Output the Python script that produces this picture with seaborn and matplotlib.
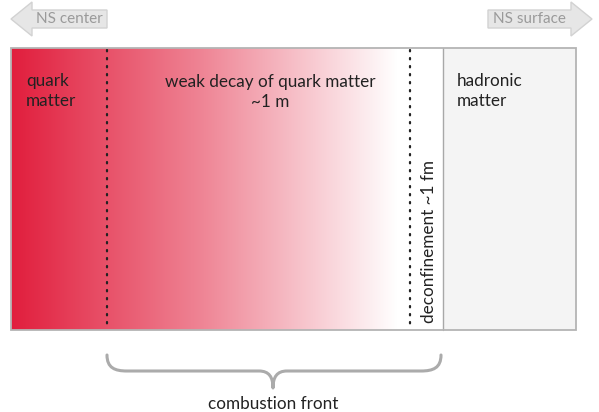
import numpy as np
import seaborn as sns
import matplotlib.pyplot as plt
from matplotlib.colors import LinearSegmentedColormap
from matplotlib.path import Path
from matplotlib.patches import PathPatch, Polygon, Rectangle

# ======================
# diagram layout (pixel units of a 599x412 canvas)
# ======================
box_left, box_right = 11, 576
box_top, box_bottom = 48, 330
grad_end = 398           # where the red fade reaches white
dotted_x = [107, 410]    # boundaries of the weak-decay zone / deconfinement
hadron_x = 443           # start of hadronic matter

region_labels = ["quark\nmatter", "weak decay of quark matter\n~1 m", "hadronic\nmatter"]
region_label_x = [26, 270, 457]
rot_label = "deconfinement ~1 fm"
arrow_labels = ["NS center", "NS surface"]
brace_label = "combustion front"

sns.set_theme(style="white")
plt.rcParams['font.family'] = ['Lato', 'DejaVu Sans']

fig = plt.figure(figsize=(5.99, 4.12), dpi=100)
ax = fig.add_axes([0, 0, 1, 1])
ax.set_xlim(0, 599)
ax.set_ylim(412, 0)
ax.axis('off')

# red -> white fade
cmap = LinearSegmentedColormap.from_list("fade", ["#E11E3D", "#EF8696", "#FFFFFF"])
grad = np.linspace(0, 1, 256).reshape(1, -1)
ax.imshow(grad, cmap=cmap, aspect='auto',
          extent=(box_left, grad_end, box_bottom, box_top), zorder=1)

# hadronic region
ax.add_patch(Rectangle((hadron_x, box_top), box_right - hadron_x, box_bottom - box_top,
                       facecolor="#F4F4F4", edgecolor="none", zorder=1))
ax.plot([hadron_x, hadron_x], [box_top, box_bottom], color="#A8A8A8", lw=1.0, zorder=3)

# outer frame
ax.add_patch(Rectangle((box_left, box_top), box_right - box_left, box_bottom - box_top,
                       facecolor="none", edgecolor="#B4B4B4", lw=1.3, zorder=4))

# dotted boundaries
for x in dotted_x:
    ax.plot([x, x], [box_top + 2, box_bottom - 2], color="#222222", lw=1.6,
            linestyle=(0, (0.6, 3.0)), dash_capstyle='round', zorder=3)

# region text
fs = 12.3
ax.text(region_label_x[0], 91, region_labels[0], fontsize=fs, color="#222222",
        ha='left', va='center', linespacing=1.25, zorder=5)
ax.text(region_label_x[1], 92, region_labels[1], fontsize=fs, color="#222222",
        ha='center', va='center', linespacing=1.25, zorder=5)
ax.text(region_label_x[2], 91, region_labels[2], fontsize=fs, color="#222222",
        ha='left', va='center', linespacing=1.25, zorder=5)
ax.text(429, 323, rot_label, fontsize=fs, color="#222222", rotation=90,
        ha='center', va='bottom', zorder=5)

# direction arrows
def block_arrow(x0, x1, tip_left, label):
    yc, hb, hh, head = 19, 9, 17, 21
    if tip_left:
        pts = [(x0, yc), (x0 + head, yc - hh), (x0 + head, yc - hb), (x1, yc - hb),
               (x1, yc + hb), (x0 + head, yc + hb), (x0 + head, yc + hh)]
        tx = (x0 + head + x1) / 2
    else:
        pts = [(x1, yc), (x1 - head, yc - hh), (x1 - head, yc - hb), (x0, yc - hb),
               (x0, yc + hb), (x1 - head, yc + hb), (x1 - head, yc + hh)]
        tx = (x0 + x1 - head) / 2
    ax.add_patch(Polygon(pts, closed=True, facecolor="#E6E6E6", edgecolor="#D2D2D2",
                         lw=1.0, zorder=2))
    ax.text(tx, yc, label, fontsize=11, color="#9A9A9A", ha='center', va='center', zorder=3)

block_arrow(11, 107, True, arrow_labels[0])
block_arrow(488, 592, False, arrow_labels[1])

# curly brace under the combustion front
bl, br, bm = 107, 441, 273
y0, y1, y2 = 355, 371, 388
verts = [(bl, y0), (bl, y1 - 3), (bl + 8, y1), (bl + 20, y1),
         (bm - 14, y1),
         (bm - 4, y1), (bm, y1 + 6), (bm, y2),
         (bm, y1 + 6), (bm + 4, y1), (bm + 14, y1),
         (br - 20, y1),
         (br - 8, y1), (br, y1 - 3), (br, y0)]
codes = [Path.MOVETO, Path.CURVE4, Path.CURVE4, Path.CURVE4,
         Path.LINETO,
         Path.CURVE4, Path.CURVE4, Path.CURVE4,
         Path.CURVE4, Path.CURVE4, Path.CURVE4,
         Path.LINETO,
         Path.CURVE4, Path.CURVE4, Path.CURVE4]
ax.add_patch(PathPatch(Path(verts, codes), facecolor="none", edgecolor="#ABABAB",
                       lw=2.2, capstyle='round', joinstyle='round', zorder=2))
ax.text(bm, 404, brace_label, fontsize=fs, color="#222222", ha='center', va='center')

fig.savefig("out.png", dpi=100)
